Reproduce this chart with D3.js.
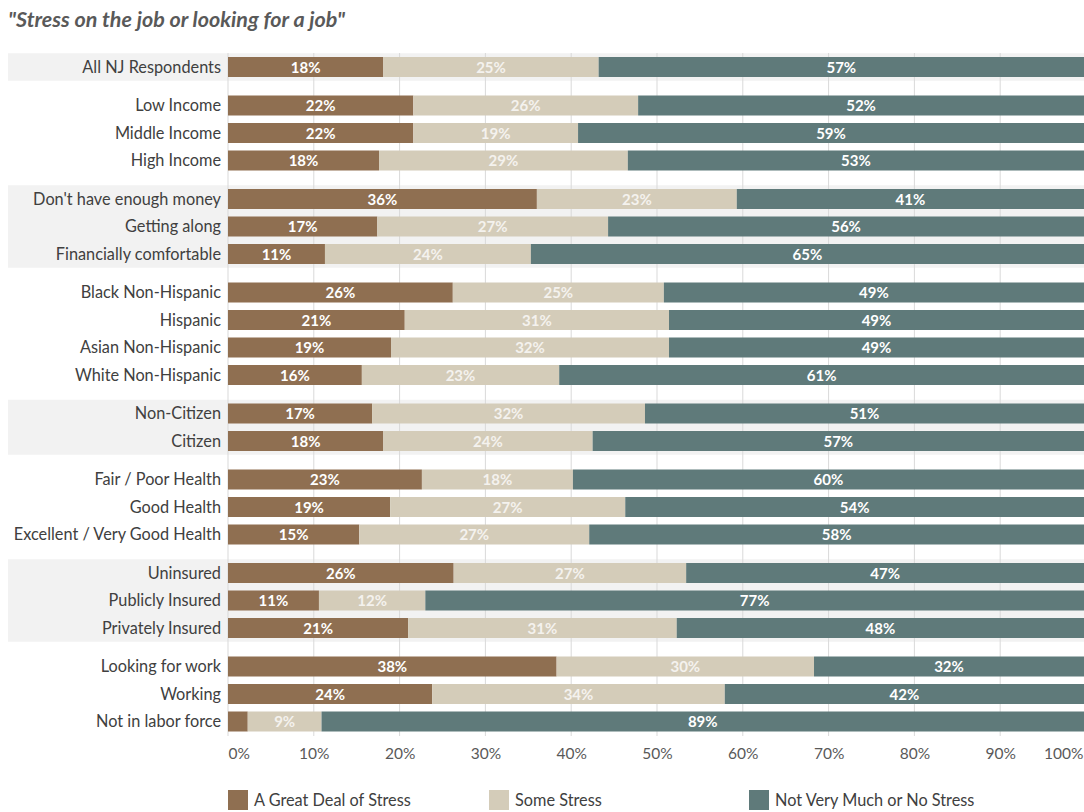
<!DOCTYPE html>
<html>
<head>
<meta charset="utf-8">
<script src="https://cdn.jsdelivr.net/npm/d3@7"></script>
<style>
  body { margin: 0; background: #fff; }
  svg text { font-family: Lato, "Open Sans", sans-serif; }
</style>
</head>
<body>
<div id="chart"></div>
<script>
// categories, grouped (group index per row)
var categories = [
  "All NJ Respondents",
  "Low Income", "Middle Income", "High Income",
  "Don't have enough money", "Getting along", "Financially comfortable",
  "Black Non-Hispanic", "Hispanic", "Asian Non-Hispanic", "White Non-Hispanic",
  "Non-Citizen", "Citizen",
  "Fair / Poor Health", "Good Health", "Excellent / Very Good Health",
  "Uninsured", "Publicly Insured", "Privately Insured",
  "Looking for work", "Working", "Not in labor force"
];
var groups = [0, 1,1,1, 2,2,2, 3,3,3,3, 4,4, 5,5,5, 6,6,6, 7,7,7];

var seriesNames = ["A Great Deal of Stress", "Some Stress", "Not Very Much or No Stress"];
var greatDeal = [18.1, 21.6, 21.6, 17.6, 36.0, 17.4, 11.3, 26.2, 20.6, 19.0, 15.6, 16.8, 18.1, 22.6, 18.9, 15.3, 26.3, 10.6, 21.0, 38.3, 23.8, 2.3];
var someStress = [25.1, 26.2, 19.2, 29.0, 23.3, 26.9, 24.0, 24.6, 30.8, 32.4, 23.0, 31.8, 24.4, 17.6, 27.4, 26.8, 27.1, 12.4, 31.3, 30.0, 34.1, 8.6];
var noStress   = [56.8, 52.2, 59.2, 53.4, 40.7, 55.7, 64.7, 49.2, 48.6, 48.6, 61.4, 51.4, 57.4, 59.8, 53.7, 57.9, 46.6, 77.0, 47.7, 31.7, 42.1, 89.1];

var xTicks = [0, 10, 20, 30, 40, 50, 60, 70, 80, 90, 100];
var colors = ["#8f6f51", "#d4ccb9", "#5f7a7a"];

var width = 1084, height = 812;

var svg = d3.select("#chart").append("svg")
    .attr("width", width)
    .attr("height", height);

// title
svg.append("text")
    .attr("x", 8)
    .attr("y", 27)
    .attr("font-size", 21.5)
    .attr("font-weight", "bold")
    .attr("font-style", "italic")
    .attr("fill", "#595959")
    .text("\"Stress on the job or looking for a job\"");

// scales
var x = d3.scaleLinear().domain([0, 100]).range([228, 1086]);

var gapUnits = 0.4;
var slot = categories.map(function(d, i) { return i + groups[i] * gapUnits; });
var y = d3.scaleLinear()
    .domain([0, d3.max(slot)])
    .range([67, 721.5]);
var pitch = y(1) - y(0);
var barH = 20;

// shaded group bands (alternate groups)
var groupIds = d3.range(d3.max(groups) + 1);
groupIds.forEach(function(g) {
  if (g % 2 !== 0) return;
  var idx = d3.range(categories.length).filter(function(i) { return groups[i] === g; });
  var top = y(slot[idx[0]]) - pitch / 2;
  var bottom = y(slot[idx[idx.length - 1]]) + pitch / 2;
  svg.append("rect")
      .attr("x", 8)
      .attr("y", top)
      .attr("width", width - 8)
      .attr("height", bottom - top)
      .attr("fill", "#f2f2f2");
});

// gridlines
svg.append("g").selectAll("line")
    .data(xTicks)
    .enter().append("line")
    .attr("x1", function(d) { return x(d); })
    .attr("x2", function(d) { return x(d); })
    .attr("y1", 53)
    .attr("y2", 736)
    .attr("stroke", "#d9d9d9")
    .attr("stroke-width", 1);

// stacked data
var rows = categories.map(function(c, i) {
  var vals = [greatDeal[i], someStress[i], noStress[i]];
  var start = 0;
  return vals.map(function(v, k) {
    var seg = { row: i, k: k, x0: start, x1: start + v, v: v };
    start += v;
    return seg;
  });
});
var segs = [].concat.apply([], rows);

svg.append("g").selectAll("rect")
    .data(segs)
    .enter().append("rect")
    .attr("x", function(d) { return x(d.x0); })
    .attr("y", function(d) { return y(slot[d.row]) - barH / 2; })
    .attr("width", function(d) { return x(d.x1) - x(d.x0); })
    .attr("height", barH)
    .attr("fill", function(d) { return colors[d.k]; });

// value labels
svg.append("g").selectAll("text")
    .data(segs.filter(function(d) { return d.v >= 5; }))
    .enter().append("text")
    .attr("x", function(d) { return (x(d.x0) + Math.min(x(d.x1), width)) / 2; })
    .attr("y", function(d) { return y(slot[d.row]) + 5.5; })
    .attr("text-anchor", "middle")
    .attr("font-size", 15)
    .attr("font-weight", "bold")
    .attr("fill", function(d) { return d.k === 1 ? "#f4f2ee" : "#ffffff"; })
    .text(function(d) { return Math.round(d.v) + "%"; });

// category labels
svg.append("g").selectAll("text")
    .data(categories)
    .enter().append("text")
    .attr("x", 221)
    .attr("y", function(d, i) { return y(slot[i]) + 5.5; })
    .attr("text-anchor", "end")
    .attr("font-size", 16.3)
    .attr("fill", "#404040")
    .text(function(d) { return d; });

// x axis
var xAxis = d3.axisBottom(x)
    .tickValues(xTicks)
    .tickSize(0)
    .tickPadding(0)
    .tickFormat(function(d) { return d + "%"; });

var axisG = svg.append("g")
    .attr("transform", "translate(0,748)")
    .call(xAxis);
axisG.select(".domain").remove();
axisG.selectAll("text")
    .attr("font-size", 15.5)
    .attr("font-family", "Lato, 'Open Sans', sans-serif")
    .attr("fill", "#595959")
    .attr("text-anchor", function(d) { return d === 0 ? "start" : (d === 100 ? "end" : "middle"); })
    .attr("dx", function(d) { return d === 100 ? (width - x(100) - 1) : 0; });

// legend
var legendX = [228, 489, 749];
var legend = svg.append("g").selectAll("g")
    .data(seriesNames)
    .enter().append("g")
    .attr("transform", function(d, i) { return "translate(" + legendX[i] + ",790)"; });
legend.append("rect")
    .attr("width", 20)
    .attr("height", 20)
    .attr("fill", function(d, i) { return colors[i]; });
legend.append("text")
    .attr("x", 26)
    .attr("y", 15.5)
    .attr("font-size", 16.3)
    .attr("fill", "#404040")
    .text(function(d) { return d; });
</script>
</body>
</html>
